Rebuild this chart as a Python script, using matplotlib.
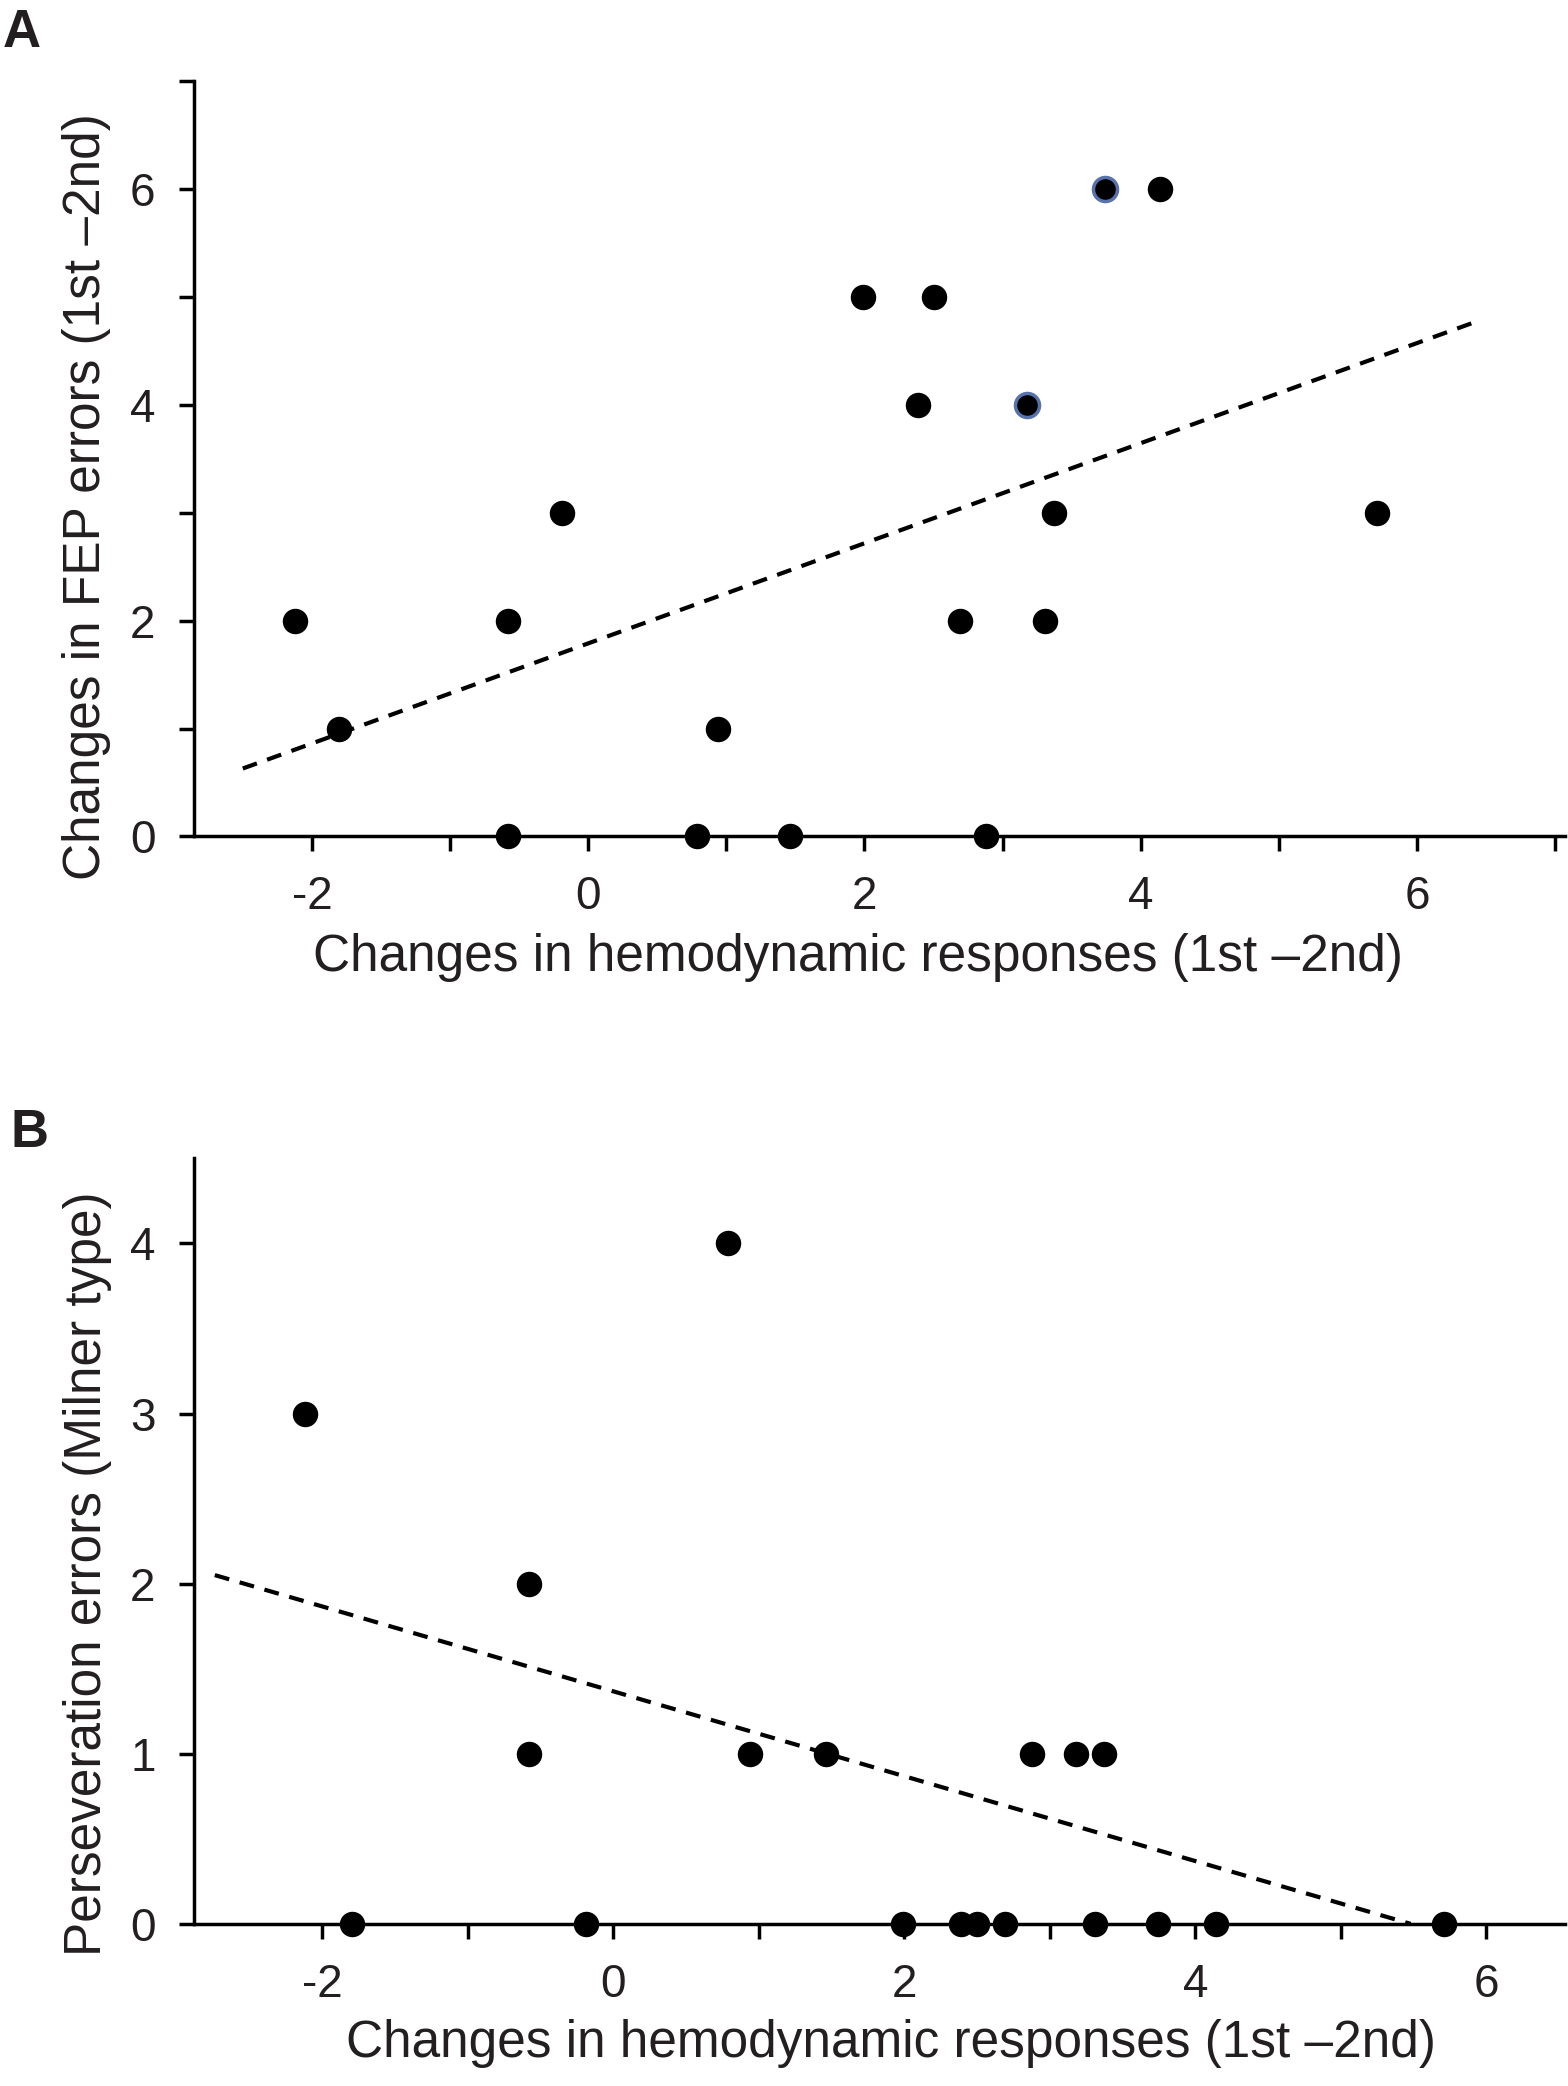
import numpy as np
import matplotlib
matplotlib.use('Agg')
import matplotlib.pyplot as plt
from matplotlib.ticker import MultipleLocator

plt.rcParams['font.family'] = ['Liberation Sans', 'DejaVu Sans']
plt.rcParams['axes.unicode_minus'] = False

# hemodynamic change per subject (1st - 2nd)
hemo = [-2.12, -1.80, -0.58, -0.58, -0.19, 0.79, 0.94, 1.46, 1.99, 2.39,
        2.50, 2.69, 2.88, 3.18, 3.31, 3.37, 3.74, 4.14, 5.71]
# panel A: changes in FEP errors
fep = [2, 1, 2, 0, 3, 0, 1, 0, 5, 4, 5, 2, 0, 4, 2, 3, 6, 6, 3]
# subjects drawn with a blue ring in panel A
ringed = [13, 16]
# panel B: perseveration errors (Milner type)
pers = [3, 0, 1, 2, 0, 4, 1, 1, 0, 0, 0, 0, 1, 1, 0, 1, 0, 0, 0]

# regression lines as printed (slope, intercept) and their x extent
fit_a = (0.464, 1.79)
span_a = (-2.5, 6.4)
fit_b = (-0.2494, 1.367)
span_b = (-2.74, 5.48)

txt = '#231f20'
x_lbl = 'Changes in hemodynamic responses (1st \u20132nd)'

fig = plt.figure(figsize=(15.68, 20.86), dpi=100)
axA = fig.add_axes([0.124, 0.599, 0.874, 0.362])
axB = fig.add_axes([0.124, 0.0777, 0.874, 0.367])


def style(ax):
    for s in ['top', 'right']:
        ax.spines[s].set_visible(False)
    for s in ['left', 'bottom']:
        ax.spines[s].set_linewidth(2.5)
    ax.tick_params(which='both', direction='out', width=2.5, length=11,
                   labelsize=33, pad=17, labelcolor=txt)
    ax.xaxis.set_major_locator(MultipleLocator(2))
    ax.xaxis.set_minor_locator(MultipleLocator(1))


def fit_line(ax, fit, span):
    k, b = fit
    xs = np.array(span)
    ax.plot(xs, k * xs + b, ls=(0, (3.6, 2.6)), color='black', lw=3)


# panel A
x = np.array(hemo)
ya = np.array(fep)
style(axA)
axA.set_xlim(-2.85, 7.07)
axA.set_ylim(0, 7)
axA.yaxis.set_major_locator(MultipleLocator(2))
axA.yaxis.set_minor_locator(MultipleLocator(1))
fit_line(axA, fit_a, span_a)
plain = [i for i in range(len(x)) if i not in ringed]
axA.scatter(x[plain], ya[plain], s=300, color='black', zorder=3, clip_on=False)
axA.scatter(x[ringed], ya[ringed], s=300, color='black', edgecolor='#5872ab',
            linewidth=2.5, zorder=3, clip_on=False)
axA.set_xlabel(x_lbl, fontsize=37, labelpad=10, color=txt, x=0.484)
axA.set_ylabel('Changes in FEP errors (1st \u20132nd)', fontsize=37,
               labelpad=14, color=txt, y=0.45)

# panel B
yb = np.array(pers)
style(axB)
axB.set_xlim(-2.88, 6.54)
axB.set_ylim(0, 4.5)
axB.yaxis.set_major_locator(MultipleLocator(1))
fit_line(axB, fit_b, span_b)
axB.scatter(x, yb, s=300, color='black', zorder=3, clip_on=False)
axB.set_xlabel(x_lbl, fontsize=37, labelpad=9, color=txt, x=0.508)
axB.set_ylabel('Perseveration errors (Milner type)', fontsize=37,
               labelpad=13, color=txt, y=0.457)

fig.text(0.002, 0.984, 'A', fontsize=38, fontweight='bold', va='center', color=txt)
fig.text(0.007, 0.457, 'B', fontsize=38, fontweight='bold', va='center', color=txt)

fig.savefig('out.png', dpi=100)
